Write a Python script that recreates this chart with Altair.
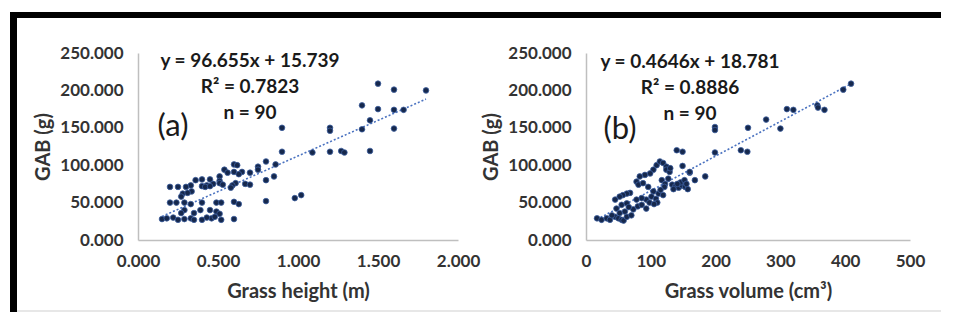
import altair as alt
import pandas as pd

# ---------------- data ----------------
height_a = [1.50, 1.60, 1.80, 1.40, 1.50, 1.60, 1.66, 1.45, 1.40, 1.60,
            1.20, 1.20, 0.90, 0.90, 1.09, 1.20, 1.27, 1.29, 1.45, 0.80,
            0.86, 0.85, 0.80, 0.80, 0.98, 1.02, 0.75, 0.75, 0.70, 0.65,
            0.60, 0.62, 0.60, 0.54, 0.61, 0.59, 0.67, 0.70, 0.51, 0.51,
            0.45, 0.40, 0.43, 0.47, 0.51, 0.40, 0.42, 0.33, 0.30, 0.335,
            0.28, 0.31, 0.20, 0.25, 0.20, 0.24, 0.29, 0.33, 0.40, 0.49,
            0.52, 0.60, 0.63, 0.29, 0.39, 0.45, 0.49, 0.35, 0.51, 0.27,
            0.15, 0.18, 0.22, 0.25, 0.29, 0.33, 0.35, 0.40, 0.46, 0.52,
            0.60, 0.43, 0.48, 0.56, 0.45, 0.27, 0.36, 0.53, 0.63, 0.58]
gab_a = [209, 201, 200, 180, 175, 174, 174, 160, 148, 149,
         150, 146, 150, 118, 117, 118, 119, 117, 119, 105,
         101, 85, 80, 52, 56, 60, 98, 94, 90, 91,
         101, 100, 91, 94, 76, 73, 75, 74, 85, 79,
         81, 81, 73, 75, 76, 72, 71, 73, 71, 65,
         62, 63, 71, 71, 50, 50, 50, 48, 50, 50,
         50, 51, 48, 40, 40, 40, 38, 36, 35, 36,
         28, 29, 30, 27, 28, 29, 27, 27, 29, 27,
         28, 30, 31, 90, 72, 58, 80, 74, 88, 70]

volume_b = [409, 397, 357, 358, 368, 310, 320, 278, 300, 250,
            199, 199, 199, 239, 249, 184, 168, 160, 140, 149,
            149, 109, 114, 119, 124, 104, 99, 91, 83, 78,
            81, 88, 96, 124, 129, 160, 117, 122, 127, 121,
            133, 138, 143, 148, 153, 157, 146, 152, 135, 104,
            101, 93, 86, 78, 68, 63, 57, 52, 45, 47,
            55, 63, 73, 80, 86, 93, 112, 115, 108, 17,
            24, 32, 37, 45, 50, 55, 58, 63, 70, 40,
            52, 60, 66, 98, 110, 130, 141, 155, 119, 105]
gab_b = [209, 201, 180, 177, 174, 175, 174, 161, 149, 150,
         151, 147, 117, 120, 118, 85, 80, 90, 120, 118,
         99, 100, 105, 103, 98, 94, 89, 87, 85, 78,
         74, 76, 71, 94, 91, 91, 80, 75, 82, 71,
         74, 72, 70, 73, 71, 68, 77, 80, 68, 65,
         58, 54, 56, 54, 63, 62, 60, 58, 54, 42,
         47, 49, 41, 45, 47, 42, 62, 67, 55, 29,
         27, 29, 27, 31, 29, 27, 26, 31, 33, 33,
         36, 38, 44, 50, 50, 96, 75, 75, 60, 48]

y_ticks = [0, 50, 100, 150, 200, 250]
x_ticks_a = [0.0, 0.5, 1.0, 1.5, 2.0]
x_ticks_b = [0, 100, 200, 300, 400, 500]

text_a = ["y = 96.655x + 15.739", "R\u00b2 = 0.7823", "n = 90", "(a)"]
text_b = ["y = 0.4646x + 18.781", "R\u00b2 = 0.8886", "n = 90", "(b)"]

df_a = pd.DataFrame({"x": height_a, "y": gab_a})
df_b = pd.DataFrame({"x": volume_b, "y": gab_b})
one = pd.DataFrame({"k": [0]})

FONT = "Lato"
TXT = "#333333"
DOT = "#16284c"
TREND = "#4a72c0"
H = 187


def panel(df, width, xdom, xticks, xfmt, xtitle, texts, pos):
    base = alt.Chart(df)
    xenc = alt.X("x:Q", title=xtitle,
                 scale=alt.Scale(domain=xdom, nice=False, zero=True),
                 axis=alt.Axis(values=xticks, format=xfmt, labelFlush=False,
                               labelOverlap=False))
    yenc = alt.Y("y:Q", title="GAB (g)",
                 scale=alt.Scale(domain=[0, 250], nice=False),
                 axis=alt.Axis(values=y_ticks, format=".3f", labelOverlap=False,
                               labelFlush=False, tickCount=6))
    pts = base.mark_circle(size=32, opacity=1, color=DOT, stroke="#3d5f9f",
                           strokeWidth=0.8).encode(x=xenc, y=yenc)
    trend = base.transform_regression("x", "y").mark_line(
        color=TREND, strokeWidth=1.6, strokeDash=[2, 2]
    ).encode(x=xenc, y=yenc)
    layers = [trend, pts]
    for i, t in enumerate(texts[:3]):
        layers.append(alt.Chart(one).mark_text(
            font=FONT, fontSize=19, fontWeight="bold", color="#1a1a1a",
            align="center", baseline="middle"
        ).encode(x=alt.value(pos[0]), y=alt.value(pos[1] + 26 * i),
                 text=alt.value(t)))
    layers.append(alt.Chart(one).mark_text(
        font=FONT, fontSize=31, fontWeight="normal", color="#1a1a1a",
        align="center", baseline="middle"
    ).encode(x=alt.value(pos[2]), y=alt.value(pos[3]), text=alt.value(texts[3])))
    return alt.layer(*layers).properties(width=width, height=H)


pa = panel(df_a, 320, [0, 2.0], x_ticks_a, ".3f", "Grass height (m)", text_a,
           (112, 8, 35, 74))
pb = panel(df_b, 324, [0, 500], x_ticks_b, "d", "Grass volume (cm\u00b3)", text_b,
           (104, 9, 34, 77))

# decorative figure frame (black top/left bands, light bottom line)
frame = [
    alt.Chart(one).mark_rect(color="white", opacity=0).encode(
        x=alt.value(790), x2=alt.value(808), y=alt.value(-41), y2=alt.value(-30)),
    alt.Chart(one).mark_rect(color="black").encode(
        x=alt.value(-128), x2=alt.value(803), y=alt.value(-41), y2=alt.value(-35)),
    alt.Chart(one).mark_rect(color="black").encode(
        x=alt.value(-128), x2=alt.value(-121), y=alt.value(-41), y2=alt.value(259)),
    alt.Chart(one).mark_rect(color="#d0d0d0").encode(
        x=alt.value(-121), x2=alt.value(803), y=alt.value(257.5), y2=alt.value(258.5)),
]
pa = alt.layer(*frame, pa)

chart = alt.hconcat(pa, pb, spacing=128, bounds="flush").properties(
    padding={"left": 2, "top": 4, "right": 0, "bottom": 0}
).configure_view(stroke=None).configure_axis(
    grid=False, ticks=False, tickSize=0, labelOverlap=False,
    domainColor="#bfbfbf", domainWidth=1.5,
    labelFont=FONT, labelFontSize=17, labelFontWeight="bold", labelColor=TXT,
    labelPadding=15,
    titleFont=FONT, titleFontSize=20, titleFontWeight="bold", titleColor=TXT,
).configure_axisY(titlePadding=6).configure_axisX(titlePadding=12, labelPadding=13)

chart.save("out.html", embed_options={"renderer": "svg", "actions": False})
